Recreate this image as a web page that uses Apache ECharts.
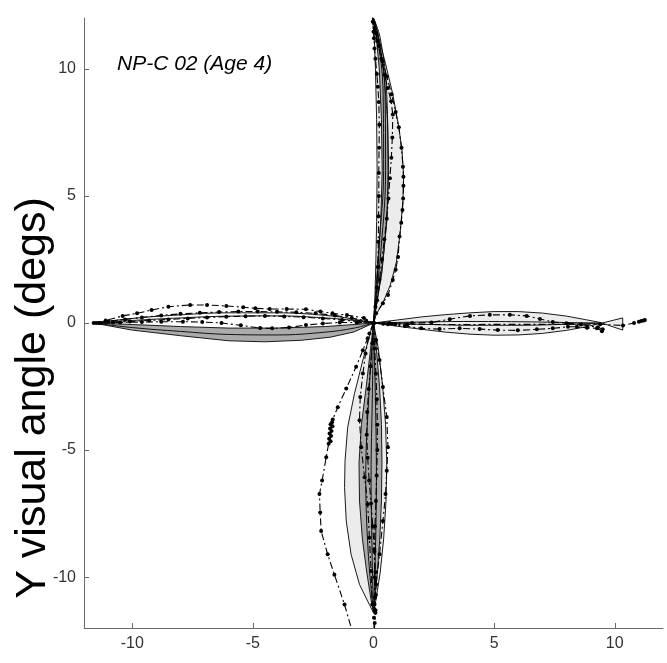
<!DOCTYPE html>
<html>
<head>
<meta charset="utf-8">
<script src="https://cdn.jsdelivr.net/npm/echarts@6/dist/echarts.min.js"></script>
<style>html,body{margin:0;padding:0;background:#fff;}#c{width:667px;height:663px;}</style>
</head>
<body>
<div id="c"></div>
<script>
// ---- tick labels ----
const xTicks = [-10, -5, 0, 5, 10];
const yTicks = [-10, -5, 0, 5, 10];
const titleText = 'NP-C 02 (Age 4)';
const yTitle = 'Y visual angle (degs)';

// ---- LEFT saccades ----
const leftShadeUpper = [[-11.6,0],[-10,-0.06],[-8,-0.14],[-6,-0.2],[-4,-0.2],[-2,-0.14],[-0.8,-0.06],[0,0]];
const leftShadeLower = [[-11.6,0],[-10,-0.28],[-8,-0.5],[-6,-0.7],[-4.5,-0.74],[-3,-0.68],[-1.8,-0.56],[-0.8,-0.35],[0,0]];
const leftMean = [[-11.6,0],[-10,-0.18],[-8,-0.33],[-6,-0.45],[-4,-0.47],[-2,-0.36],[-0.8,-0.2],[0,0]];
const leftSolidA = [[-11.6,0],[-10,0.1],[-8,0.2],[-6,0.27],[-4,0.28],[-2,0.2],[-0.8,0.1],[0,0]];
const leftSolidB = [[-11.6,0],[-10,0.18],[-8,0.32],[-6,0.4],[-4,0.4],[-2,0.3],[-0.8,0.15],[0,0]];
const leftTrajTop = [[-11.6,0],[-11.1,0.1],[-10.4,0.28],[-9.8,0.38],[-9.2,0.51],[-8.5,0.64],[-7.6,0.71],[-6.9,0.71],[-6.1,0.67],[-5.4,0.62],[-4.9,0.58],[-4.3,0.55],[-3.6,0.55],[-2.8,0.54],[-2.2,0.45],[-1.7,0.38],[-1.1,0.31],[-0.4,0.2],[0,0]];
const leftTrajMidA = [[-11.5,0],[-11,0.06],[-10.3,0.14],[-9.6,0.22],[-8.8,0.3],[-8,0.36],[-7.2,0.4],[-6.4,0.43],[-5.6,0.45],[-4.8,0.45],[-4,0.44],[-3.2,0.42],[-2.4,0.38],[-1.6,0.3],[-0.9,0.2],[-0.3,0.08],[0,0]];
const leftTrajMidB = [[-11.4,0],[-10.8,0.02],[-10.1,0.06],[-9.3,0.1],[-8.5,0.14],[-7.7,0.18],[-6.9,0.22],[-6.1,0.25],[-5.3,0.27],[-4.5,0.28],[-3.7,0.26],[-2.9,0.23],[-2.1,0.18],[-1.3,0.12],[-0.6,0.05],[0,0]];
const leftTrajLow = [[-11.3,0],[-10.5,0.02],[-9.6,0.04],[-8.8,0.05],[-7.9,0.05],[-7.1,0.04],[-6.3,0],[-5.5,-0.09],[-4.7,-0.2],[-4.2,-0.21],[-3.5,-0.18],[-2.8,-0.08],[-2.1,-0.02],[-1.4,0.02],[-0.7,0.02],[0,0]];

// ---- RIGHT saccades ----
const rightLensUpper = [[0,0],[1,0.12],[2,0.24],[3,0.33],[4,0.4],[5,0.45],[6,0.45],[7,0.39],[8,0.27],[8.8,0.13],[9.4,0.02],[10.33,-0.28]];
const rightLensLower = [[0,0],[1,-0.13],[2,-0.25],[3,-0.36],[4,-0.44],[5,-0.48],[6,-0.47],[7,-0.41],[8,-0.29],[8.8,-0.15],[9.4,-0.02],[10.33,0.2]];
const rightSolidA = [[0,0],[2,0.04],[4,0.06],[6,0.05],[8,0.02],[9.4,0]];
const rightSolidB = [[0,0],[2,-0.05],[4,-0.09],[6,-0.09],[8,-0.05],[9.4,-0.01]];
const rightTrajUpper = [[0,0],[0.66,0],[1.6,0],[2.4,0.02],[3.16,0.15],[4,0.28],[4.82,0.32],[5.65,0.32],[6.35,0.28],[6.9,0.16],[7.43,0.04],[8,-0.01],[8.6,-0.06],[9.3,-0.17],[9.5,-0.25]];
const rightTrajLower = [[0,0],[0.6,-0.05],[1.3,-0.12],[1.98,-0.21],[2.74,-0.24],[3.57,-0.21],[4.4,-0.24],[5.15,-0.28],[5.98,-0.29],[6.77,-0.25],[7.43,-0.21],[8.06,-0.15],[8.43,-0.15],[8.85,-0.19],[9.26,-0.21],[9.47,-0.32]];
const rightTrajLong = [[0,0],[0.4,-0.03],[0.9,-0.05],[1.4,-0.06],[9.4,-0.05],[10.34,-0.1],[10.8,0],[11.0,0.05],[11.1,0.08],[11.2,0.1],[11.25,0.12]];

// ---- UP saccades ----
const upLightLeft = [[0,0],[0.06,1],[0.1,2.5],[0.13,4],[0.15,6],[0.13,8],[0.08,10],[0.03,11.3],[-0.05,12]];
const upLightRight = [[0,0],[0.12,0.35],[0.39,0.8],[0.7,1.5],[0.95,2.4],[1.1,3.5],[1.22,4.8],[1.25,5.8],[1.18,6.8],[1.05,7.7],[0.8,9],[0.5,10.2],[0.22,11.2],[-0.05,12]];
const upDarkLeft = [[0,0],[0.18,2],[0.3,4],[0.36,6],[0.33,8],[0.24,10],[0.1,11.4],[-0.03,12]];
const upDarkRight = [[0,0],[0.35,2],[0.55,4],[0.63,6],[0.58,8],[0.42,10],[0.18,11.4],[-0.03,12]];
const upSolidA = [[0,0],[0.22,3],[0.42,6],[0.4,9],[0.15,11.4],[-0.03,12]];
const upSolidB = [[0,0],[0.45,3],[0.6,6],[0.55,9],[0.28,11.2],[0,12]];
const upSolidC = [[0,0],[0.32,3],[0.5,6],[0.48,9],[0.2,11.3],[-0.02,12]];
const upTrajRight = [[0,0],[0.11,0.38],[0.39,0.78],[0.6,1.1],[0.8,1.69],[0.92,2.1],[1.02,2.6],[1.08,3.4],[1.15,3.94],[1.2,4.45],[1.23,4.9],[1.24,5.4],[1.24,5.75],[1.22,6.15],[1.16,6.9],[1.05,7.7],[0.92,8.3],[0.75,9.0],[0.55,9.7],[0.38,10.3],[0.22,10.9],[0.1,11.4],[0.02,11.8],[-0.03,12.3]];
const upTrajLeft = [[0,0],[0.08,0.64],[0.14,1.4],[0.18,2.2],[0.2,3.2],[0.21,4.2],[0.22,5.0],[0.22,5.9],[0.23,6.9],[0.24,7.8],[0.22,8.7],[0.18,9.3],[0.14,9.8],[0.08,10.4],[0.04,10.8],[0.02,11.2],[0,11.46],[-0.03,11.85],[-0.05,12.3]];
const upTrajMid = [[0,0],[0.15,0.9],[0.25,1.7],[0.35,2.5],[0.45,3.3],[0.55,4.1],[0.62,4.9],[0.68,5.7],[0.74,6.5],[0.78,7.3],[0.8,8.2],[0.73,8.72],[0.59,9.25],[0.46,9.77],[0.32,10.4],[0.15,11.1],[0.05,11.6],[0,12.3]];

// ---- DOWN saccades ----
const downLightLeft = [[0,0],[-0.1,-0.28],[-0.44,-1.46],[-0.79,-2.78],[-1.07,-4.1],[-1.18,-5.42],[-1.2,-6.47],[-1.13,-7.79],[-0.93,-9.1],[-0.58,-10.29],[-0.17,-11.08],[0,-11.4]];
const downLightRight = [[0,0],[0.2,-1],[0.38,-2.5],[0.5,-4],[0.55,-5.5],[0.52,-7],[0.42,-8.5],[0.28,-9.8],[0.1,-10.9],[0,-11.4]];
const downDarkLeft = [[0,0],[-0.12,-1],[-0.3,-2.5],[-0.5,-4],[-0.6,-5.5],[-0.58,-7],[-0.46,-8.5],[-0.28,-9.8],[-0.1,-10.9],[0,-11.4]];
const downDarkRight = [[0,0],[0.12,-1],[0.25,-2.5],[0.33,-4],[0.35,-5.5],[0.33,-7],[0.26,-8.5],[0.16,-9.8],[0.05,-10.9],[0,-11.4]];
const downSolidA = [[0,0],[-0.2,-3],[-0.32,-6],[-0.22,-9],[0,-11.4]];
const downSolidB = [[0,0],[0.08,-3],[0.12,-6],[0.08,-9],[0,-11.4]];
const downSolidC = [[0,0],[-0.05,-3],[-0.1,-6],[-0.06,-9],[0,-11.4]];
const downTrajOut = [[0,0],[-0.24,-0.6],[-0.44,-1.07],[-0.72,-1.72],[-1.13,-2.58],[-1.48,-3.31],[-1.69,-3.8],[-1.72,-3.9],[-1.78,-3.98],[-1.7,-4.06],[-1.8,-4.15],[-1.74,-4.25],[-1.82,-4.35],[-1.76,-4.45],[-1.84,-4.55],[-1.78,-4.65],[-1.86,-4.75],[-1.96,-5.28],[-2.13,-6.2],[-2.24,-6.73],[-2.21,-7.46],[-2.17,-8.18],[-1.9,-9.1],[-1.62,-9.9],[-1.2,-11.08],[-0.86,-12.2]];
const downTrajRight = [[0,0],[0.11,-0.67],[0.25,-1.46],[0.39,-2.52],[0.55,-3.7],[0.6,-4.89],[0.55,-5.81],[0.5,-6.73],[0.39,-7.79],[0.25,-9.1],[0.11,-10.29],[0.04,-11.08],[0.02,-11.6]];
const downTrajLeft = [[0,0],[-0.17,-0.41],[-0.33,-1.2],[-0.44,-1.99],[-0.55,-2.91],[-0.58,-3.83],[-0.51,-4.89],[-0.37,-6.07],[-0.24,-7.13],[-0.17,-8.45],[-0.1,-9.76],[-0.05,-11.08]];
const downTrajCenter = [[0,0],[0.05,-1],[0.1,-2],[0.14,-3],[0.16,-4],[0.16,-5],[0.13,-6],[0.1,-7],[0.06,-8],[0.04,-9],[0.05,-10],[0.06,-10.8],[0.08,-11.4],[0.05,-11.8],[0.03,-12.3]];
const downTrajCenter2 = [[0,0],[-0.05,-0.8],[-0.12,-1.7],[-0.2,-2.6],[-0.26,-3.5],[-0.28,-4.4],[-0.24,-5.3],[-0.18,-6.2],[-0.1,-7.1],[-0.03,-8],[0.03,-8.9],[0.08,-9.8],[0.1,-10.7],[0.08,-11.3]];

// ---- styling ----
const LIGHT = '#ececec', DARK = '#ababab', EDGE = '#1a1a1a';

function poly(a, b, fill) {
  const pts = a.concat(b.slice().reverse());
  return {
    type: 'custom', data: pts, silent: true, clip: true,
    renderItem: function (params, api) {
      if (params.dataIndex !== 0) return null;
      return { type: 'polygon', shape: { points: pts.map(p => api.coord(p)) },
        style: { fill: fill, stroke: EDGE, lineWidth: 1 } };
    }
  };
}
function solid(d) {
  return { type: 'line', data: d, showSymbol: false, smooth: 0.4, silent: true,
    lineStyle: { color: '#111', width: 1 } };
}
function traj(d) {
  return { type: 'line', data: d, symbol: 'circle', symbolSize: 4, showSymbol: true, showAllSymbol: true,
    silent: true, itemStyle: { color: '#000' },
    lineStyle: { color: '#000', width: 1.1, type: [7, 3, 2, 3] } };
}

const series = [
  poly(leftShadeUpper, leftShadeLower, DARK),
  poly(rightLensUpper, rightLensLower, LIGHT),
  poly(upLightLeft, upLightRight, LIGHT),
  poly(upDarkLeft, upDarkRight, DARK),
  poly(downLightLeft, downLightRight, LIGHT),
  poly(downDarkLeft, downDarkRight, DARK),
  solid(leftMean), solid(leftSolidA), solid(leftSolidB),
  solid(rightSolidA), solid(rightSolidB),
  solid(upSolidA), solid(upSolidB), solid(upSolidC),
  solid(downSolidA), solid(downSolidB), solid(downSolidC),
  traj(leftTrajTop), traj(leftTrajMidA), traj(leftTrajMidB), traj(leftTrajLow),
  traj(rightTrajUpper), traj(rightTrajLower), traj(rightTrajLong),
  traj(upTrajRight), traj(upTrajLeft), traj(upTrajMid),
  traj(downTrajOut), traj(downTrajRight), traj(downTrajLeft), traj(downTrajCenter), traj(downTrajCenter2)
];

const axisCommon = {
  type: 'value', min: -12, max: 12,
  splitLine: { show: false },
  axisLine: { show: true, onZero: false, lineStyle: { color: '#6a6a6a', width: 1 } },
  axisTick: { show: true, inside: true, length: 5, lineStyle: { color: '#6a6a6a' } },
  axisLabel: { color: '#333', fontSize: 16, fontFamily: 'Liberation Sans', margin: 8 }
};

const chart = echarts.init(document.getElementById('c'), null, { renderer: 'canvas' });
chart.setOption({
  animation: false,
  backgroundColor: '#fff',
  title: { text: titleText, left: 112, top: 49,
    textStyle: { fontStyle: 'italic', fontWeight: 'normal', fontSize: 21, color: '#000', fontFamily: 'Liberation Sans' } },
  grid: { left: 84, right: 4, top: 18, bottom: 35, containLabel: false },
  xAxis: Object.assign({}, axisCommon, {
    axisTick: Object.assign({}, axisCommon.axisTick, { customValues: xTicks }),
    axisLabel: Object.assign({}, axisCommon.axisLabel, { customValues: xTicks })
  }),
  yAxis: Object.assign({}, axisCommon, {
    axisTick: Object.assign({}, axisCommon.axisTick, { customValues: yTicks }),
    axisLabel: Object.assign({}, axisCommon.axisLabel, { customValues: yTicks })
  }),
  graphic: [{
    type: 'text', x: 33, y: 398, rotation: Math.PI / 2, silent: true,
    style: { text: yTitle, font: '43px "Liberation Sans"', fill: '#000', textAlign: 'center', textVerticalAlign: 'middle' }
  }],
  series: series
});
</script>
</body>
</html>
